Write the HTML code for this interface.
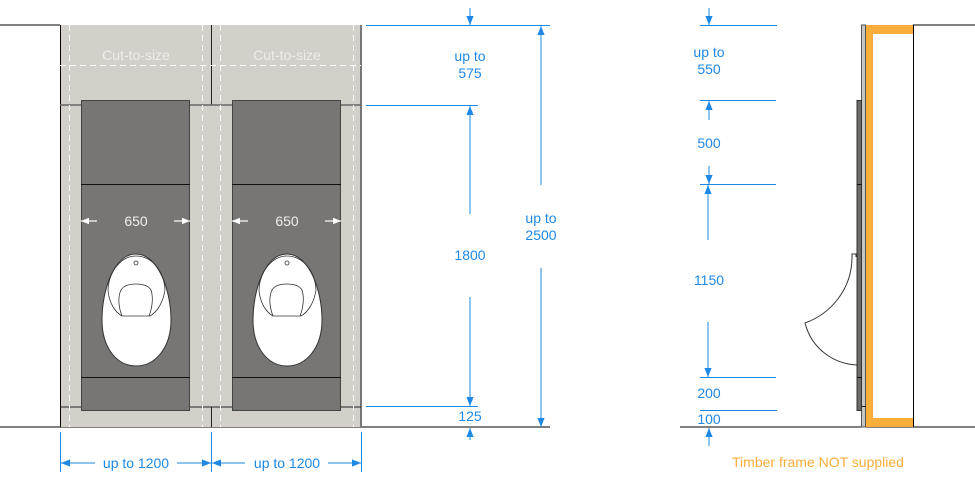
<!DOCTYPE html>
<html><head><meta charset="utf-8"><style>
html,body{margin:0;padding:0;background:#fff;}
svg{display:block;font-family:"Liberation Sans",sans-serif;}
.b{fill:#1e88e5;font-size:14px;text-anchor:middle;}
</style></head><body>
<svg width="975" height="500" viewBox="0 0 975 500" xmlns="http://www.w3.org/2000/svg">
<defs>
<marker id="a" viewBox="0 0 10 10" refX="10" refY="5" markerWidth="9" markerHeight="9" orient="auto-start-reverse" markerUnits="userSpaceOnUse"><path d="M0,1 L10,5 L0,9 Z" fill="#1e88e5"/></marker>
<marker id="w" viewBox="0 0 10 10" refX="10" refY="5" markerWidth="8" markerHeight="8" orient="auto-start-reverse" markerUnits="userSpaceOnUse"><path d="M0,1 L10,5 L0,9 Z" fill="#fff"/></marker>
<g id="u">
<path d="M136,254 C158,254 171,290 171,320 C171,348 155,366 136,366 C117,366 102,348 102,320 C102,290 114,254 136,254 Z" fill="#fff" stroke="#333" stroke-width="1"/>
<path d="M108,290 C109,270 122,256 136,256 C151,256 164,270 165,290 C163,303 157,312 150,316 L122,316 C115,312 109,303 108,290" fill="none" stroke="#333" stroke-width="0.8"/>
<path d="M122,316 C118,306 118,296 121,290 C124,285 130,284 136,284 C142,284 148,285 151,290 C153,296 153,306 149,316" fill="none" stroke="#333" stroke-width="0.8"/>
<circle cx="136" cy="263" r="2" fill="none" stroke="#333" stroke-width="0.8"/>
</g>
</defs>
<line x1="0" y1="25" x2="60" y2="25" stroke="#000"/>
<line x1="0" y1="427" x2="550" y2="427" stroke="#000"/>
<line x1="680" y1="427" x2="975" y2="427" stroke="#000"/>
<line x1="913" y1="25" x2="975" y2="25" stroke="#000"/>
<rect x="60" y="25" width="302" height="402" fill="#d3d0c9"/>
<line x1="60.5" y1="25" x2="60.5" y2="427" stroke="#000"/>
<line x1="361" y1="25" x2="361" y2="427" stroke="#777" stroke-width="2"/>
<line x1="211.5" y1="25" x2="211.5" y2="105" stroke="#222"/>
<line x1="211.5" y1="407" x2="211.5" y2="427" stroke="#222"/>
<line x1="60" y1="105" x2="361" y2="105" stroke="#666" stroke-width="1.5"/>
<line x1="60" y1="407" x2="361" y2="407" stroke="#222"/>
<g stroke="#fff" stroke-dasharray="6,4" stroke-width="1">
<line x1="69.5" y1="25" x2="69.5" y2="427"/>
<line x1="202.5" y1="25" x2="202.5" y2="427"/>
<line x1="220.5" y1="25" x2="220.5" y2="427"/>
<line x1="353.5" y1="25" x2="353.5" y2="427"/>
<line x1="60" y1="65.5" x2="361" y2="65.5"/>
</g>
<text x="136" y="60" fill="#eeece8" font-size="14" text-anchor="middle">Cut-to-size</text>
<text x="287" y="60" fill="#eeece8" font-size="14" text-anchor="middle">Cut-to-size</text>
<rect x="81.5" y="100.5" width="108" height="310" fill="#787674" stroke="#444"/>
<line x1="81" y1="184.5" x2="190" y2="184.5" stroke="#111"/>
<line x1="81" y1="377.5" x2="190" y2="377.5" stroke="#111"/>
<rect x="232.5" y="100.5" width="108" height="310" fill="#787674" stroke="#444"/>
<line x1="232" y1="184.5" x2="341" y2="184.5" stroke="#111"/>
<line x1="232" y1="377.5" x2="341" y2="377.5" stroke="#111"/>
<use href="#u"/>
<use href="#u" transform="translate(151,0)"/>
<g stroke="#fff" stroke-width="1.2">
<line x1="97" y1="221" x2="81" y2="221" marker-end="url(#w)"/>
<line x1="174" y1="221" x2="190" y2="221" marker-end="url(#w)"/>
<line x1="248" y1="221" x2="232" y2="221" marker-end="url(#w)"/>
<line x1="325" y1="221" x2="341" y2="221" marker-end="url(#w)"/>
</g>
<text x="136" y="226" fill="#eee" font-size="14" text-anchor="middle">650</text>
<text x="287" y="226" fill="#eee" font-size="14" text-anchor="middle">650</text>
<g stroke="#1e88e5" stroke-width="1" fill="none">
<line x1="366" y1="25.5" x2="550" y2="25.5"/>
<line x1="366" y1="105.5" x2="478" y2="105.5"/>
<line x1="366" y1="406.5" x2="478" y2="406.5"/>
<line x1="470" y1="8" x2="470" y2="25" marker-end="url(#a)"/>
<line x1="470" y1="214" x2="470" y2="106" marker-end="url(#a)"/>
<line x1="470" y1="297" x2="470" y2="406" marker-end="url(#a)"/>
<line x1="470" y1="440" x2="470" y2="428" marker-end="url(#a)"/>
<line x1="541" y1="185" x2="541" y2="26" marker-end="url(#a)"/>
<line x1="541" y1="268" x2="541" y2="427" marker-end="url(#a)"/>
<line x1="60.5" y1="432" x2="60.5" y2="472"/>
<line x1="211.5" y1="432" x2="211.5" y2="472"/>
<line x1="361.5" y1="432" x2="361.5" y2="472"/>
<line x1="95" y1="463" x2="61" y2="463" marker-end="url(#a)"/>
<line x1="177" y1="463" x2="211" y2="463" marker-end="url(#a)"/>
<line x1="245" y1="463" x2="212" y2="463" marker-end="url(#a)"/>
<line x1="328" y1="463" x2="361" y2="463" marker-end="url(#a)"/>
</g>
<text class="b" x="470" y="61">up to</text>
<text class="b" x="470" y="78">575</text>
<text class="b" x="470" y="260">1800</text>
<text class="b" x="470" y="421">125</text>
<text class="b" x="541" y="223">up to</text>
<text class="b" x="541" y="240">2500</text>
<text class="b" x="136" y="468">up to 1200</text>
<text class="b" x="287" y="468">up to 1200</text>
<g stroke="#1e88e5" stroke-width="1" fill="none">
<line x1="700" y1="25.5" x2="777" y2="25.5"/>
<line x1="700" y1="100.5" x2="776" y2="100.5"/>
<line x1="700" y1="184.5" x2="776" y2="184.5"/>
<line x1="700" y1="377.5" x2="776" y2="377.5"/>
<line x1="700" y1="410.5" x2="777" y2="410.5"/>
<line x1="709" y1="8" x2="709" y2="25" marker-end="url(#a)"/>
<line x1="709" y1="120" x2="709" y2="101" marker-end="url(#a)"/>
<line x1="709" y1="166" x2="709" y2="184" marker-end="url(#a)"/>
<line x1="708" y1="240" x2="708" y2="185" marker-end="url(#a)"/>
<line x1="708" y1="322" x2="708" y2="377" marker-end="url(#a)"/>
<line x1="709" y1="446" x2="709" y2="428" marker-end="url(#a)"/>
</g>
<text class="b" x="709" y="57">up to</text>
<text class="b" x="709" y="74">550</text>
<text class="b" x="709" y="148">500</text>
<text class="b" x="709" y="285">1150</text>
<text class="b" x="709" y="398">200</text>
<text class="b" x="709" y="424">100</text>
<rect x="866" y="25" width="47" height="402" fill="#f9ad3a"/>
<rect x="873" y="34" width="40" height="384" fill="#fff"/>
<line x1="913.5" y1="25" x2="913.5" y2="427" stroke="#000"/>
<rect x="861.5" y="25" width="4" height="402" fill="#c8c6c2" stroke="#555" stroke-width="1"/>
<rect x="857" y="100.5" width="4.5" height="310" fill="#6c6a68" stroke="#333" stroke-width="1"/>
<line x1="857" y1="184.5" x2="862" y2="184.5" stroke="#111"/>
<line x1="857" y1="377.5" x2="862" y2="377.5" stroke="#111"/>
<line x1="862" y1="406.5" x2="866" y2="406.5" stroke="#111"/>
<path d="M857,365 C835,364 812,350 805,323 C830,314 852,290 852,257 L852,254 L856,254 L856,257" fill="none" stroke="#333" stroke-width="1"/>
<text x="818" y="467" fill="#f9ad3a" font-size="14" text-anchor="middle">Timber frame NOT supplied</text>
</svg>
</body></html>
